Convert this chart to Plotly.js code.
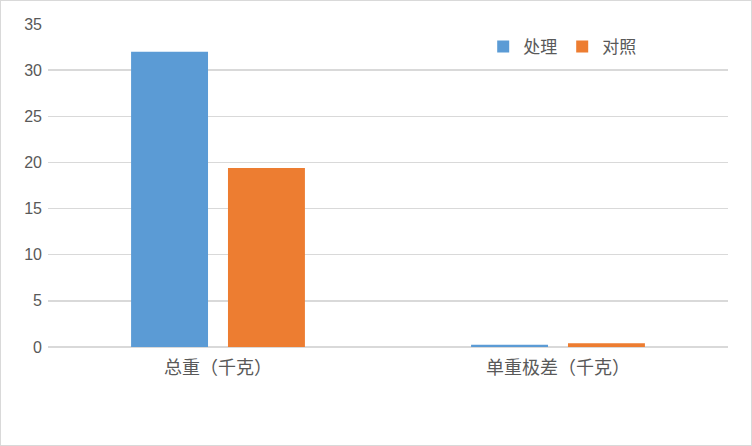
<!DOCTYPE html>
<html><head><meta charset="utf-8">
<script src="https://cdn.plot.ly/plotly-3.0.1.min.js"></script>
<style>html,body{margin:0;padding:0;background:#fff}#c{width:752px;height:446px;box-sizing:border-box;border:1px solid #D9D9D9}</style>
</head><body><div id="c"></div>
<script>
var categories = ['总重（千克）', '单重极差（千克）'];
var seriesNames = ['处理', '对照'];
var treated = [32, 0.25];
var control = [19.4, 0.4];
var yTicks = [0, 5, 10, 15, 20, 25, 30, 35];

var data = [
  {type:'bar', name:seriesNames[0], x:categories, y:treated, marker:{color:'#5B9BD5'}},
  {type:'bar', name:seriesNames[1], x:categories, y:control, marker:{color:'#ED7D31'}}
];
var layout = {
  width:750, height:444,
  margin:{l:47, r:23, t:23, b:98},
  paper_bgcolor:'#fff', plot_bgcolor:'#fff',
  barmode:'group', bargap:0.43, bargroupgap:0.206,
  font:{family:'"Noto Sans CJK SC", "Liberation Sans", sans-serif', color:'#595959', size:16},
  xaxis:{tickfont:{size:18, family:'"Noto Sans CJK SC", sans-serif', color:'#595959'}, showline:false, ticks:'', showgrid:false, ticklabelstandoff:8},
  yaxis:{range:[0,35], tickvals:yTicks, ticktext:yTicks.map(String), showgrid:true, gridcolor:'#D9D9D9', gridwidth:1.3,
         zeroline:true, zerolinecolor:'#D9D9D9', zerolinewidth:1.3, tickfont:{size:16, family:'"Liberation Sans", sans-serif', color:'#595959'}, ticklabelstandoff:5},
  legend:{orientation:'h', x:0.64, y:0.929, xanchor:'left', yanchor:'middle', font:{size:17, family:'"Noto Sans CJK SC", sans-serif', color:'#595959'}, bgcolor:'rgba(0,0,0,0)', itemwidth:20, tracegroupgap:0}
};
Plotly.newPlot('c', data, layout, {displayModeBar:false, staticPlot:true});
</script></body></html>
